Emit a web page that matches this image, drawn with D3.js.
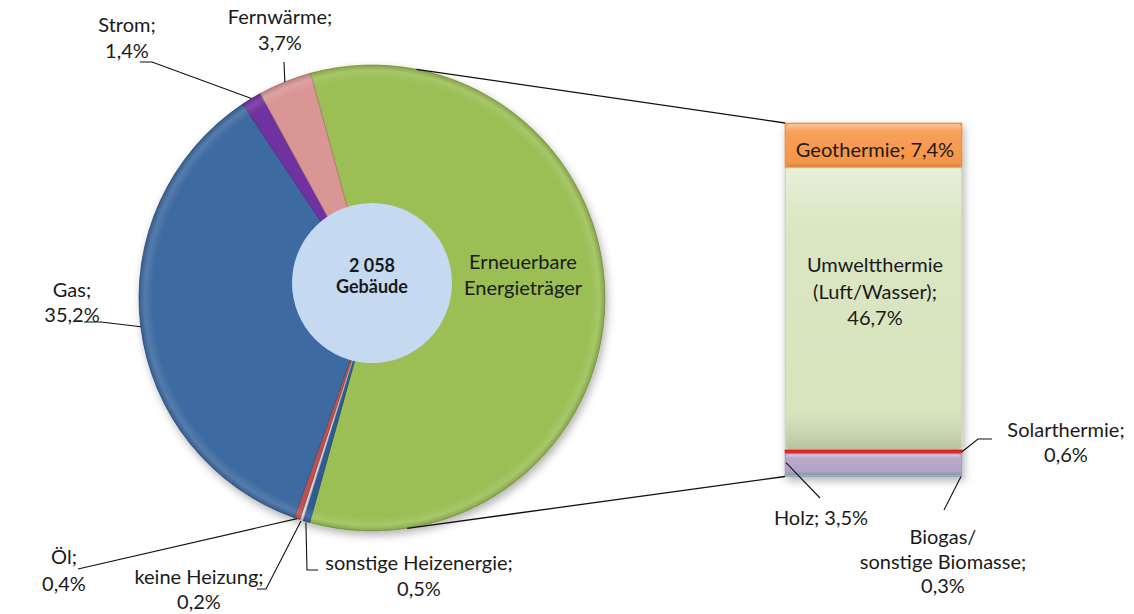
<!DOCTYPE html>
<html>
<head>
<meta charset="utf-8">
<script src="https://cdn.jsdelivr.net/npm/d3@7"></script>
<style>
  body { margin: 0; background: #fff; }
  svg text { font-family: Lato, "Noto Sans", sans-serif; fill: #1a1a1a; }
</style>
</head>
<body>
<script>
// pie slices, clockwise from the top of the green slice
const pieCats = ["Erneuerbare Energieträger", "sonstige Heizenergie", "keine Heizung", "Öl", "Gas", "Strom", "Fernwärme"];
const pieVals = [58.5, 0.5, 0.2, 0.4, 35.2, 1.4, 3.7];
const pieColors = ["#9bbf55", "#2f5d95", "#d9d9d9", "#c0504d", "#3e6aa0", "#7030a0", "#d99694"];

// breakdown of the renewable slice, top to bottom
const barCats = ["Geothermie", "Umweltthermie (Luft/Wasser)", "Solarthermie", "Holz", "Biogas/ sonstige Biomasse"];
const barVals = [7.4, 46.7, 0.6, 3.5, 0.3];
const barColors = ["#f79646", "#d7e4bd", "#e5262b", "#b3a2c7", "#8fb3bf"];

const centerLines = ["2 058", "Gebäude"];

const W = 1134, H = 614;
const de = d3.formatLocale({ decimal: ",", thousands: " ", grouping: [3], currency: ["", " €"] });
const pct = v => de.format(".1f")(v) + "%";

const svg = d3.select("body").append("svg")
  .attr("width", W)
  .attr("height", H);

const defs = svg.append("defs");
const shadow = defs.append("filter").attr("id", "shadow")
  .attr("x", "-20%").attr("y", "-20%").attr("width", "140%").attr("height", "140%");
shadow.append("feDropShadow")
  .attr("dx", 2).attr("dy", 4).attr("stdDeviation", 4)
  .attr("flood-color", "#000").attr("flood-opacity", 0.3);

// soft rim shading on the pie (centred on the pie group origin)
const rim = defs.append("radialGradient").attr("id", "rim")
  .attr("gradientUnits", "userSpaceOnUse");
rim.append("stop").attr("offset", "0%").attr("stop-color", "#fff").attr("stop-opacity", 0);
rim.append("stop").attr("offset", "94%").attr("stop-color", "#fff").attr("stop-opacity", 0);
rim.append("stop").attr("offset", "97.5%").attr("stop-color", "#fff").attr("stop-opacity", 0.12);
rim.append("stop").attr("offset", "100%").attr("stop-color", "#000").attr("stop-opacity", 0.15);

// bevel for bar pieces
const bev = defs.append("linearGradient").attr("id", "bevel")
  .attr("x1", 0).attr("y1", 0).attr("x2", 0).attr("y2", 1);
bev.append("stop").attr("offset", "0%").attr("stop-color", "#fff").attr("stop-opacity", 0.45);
bev.append("stop").attr("offset", "18%").attr("stop-color", "#fff").attr("stop-opacity", 0.1);
bev.append("stop").attr("offset", "82%").attr("stop-color", "#fff").attr("stop-opacity", 0);
bev.append("stop").attr("offset", "100%").attr("stop-color", "#000").attr("stop-opacity", 0.15);

/* pie */
const cx = 372, cy = 298, R = 233;
const startDeg = -15.3;
const rad = d => d * Math.PI / 180;

const pie = d3.pie().sort(null)
  .startAngle(rad(startDeg))
  .endAngle(rad(startDeg + 360));
const arcs = pie(pieVals);
arcs.forEach((a, i) => { a.cat = pieCats[i]; a.color = pieColors[i]; });

const arc = d3.arc().innerRadius(0).outerRadius(R);
const edge = (ang, r) => [cx + r * Math.sin(ang), cy - r * Math.cos(ang)];

rim.attr("cx", 0).attr("cy", 0).attr("r", R);

const gPie = svg.append("g").attr("transform", `translate(${cx},${cy})`);
gPie.append("g").attr("filter", "url(#shadow)")
  .selectAll("path")
  .data(arcs)
  .enter()
  .append("path")
  .attr("d", arc)
  .attr("fill", d => d.color)
  .attr("stroke", d => d3.color(d.color).darker(0.6))
  .attr("stroke-width", 0.8);

gPie.selectAll(".rim")
  .data(arcs)
  .enter()
  .append("path")
  .attr("class", "rim")
  .attr("d", arc)
  .attr("fill", "url(#rim)");

// centre disc
svg.append("circle")
  .attr("cx", cx).attr("cy", 283).attr("r", 80)
  .attr("fill", "#c5d9f1");

svg.selectAll(".ctr")
  .data(centerLines)
  .enter()
  .append("text")
  .attr("class", "ctr")
  .attr("x", cx)
  .attr("y", (d, i) => 272 + i * 21)
  .attr("text-anchor", "middle")
  .attr("font-size", 18)
  .attr("font-weight", "bold")
  .text(d => d);

svg.append("g").selectAll("text")
  .data(["Erneuerbare", "Energieträger"])
  .enter()
  .append("text")
  .attr("x", 523)
  .attr("y", (d, i) => 269 + i * 26)
  .attr("text-anchor", "middle")
  .attr("font-size", 20)
  .text(d => d);

/* bar of pie */
const barX = 785, barW = 177;
const y = d3.scaleLinear()
  .domain([0, d3.sum(barVals)])
  .range([123, 476.5]);

let acc = 0;
const barData = barVals.map((v, i) => {
  const d = { cat: barCats[i], v: v, color: barColors[i], y0: acc, y1: acc + v };
  acc += v;
  return d;
});

const gBar = svg.append("g").attr("filter", "url(#shadow)");
gBar.selectAll("rect.seg")
  .data(barData)
  .enter()
  .append("rect")
  .attr("class", "seg")
  .attr("x", barX)
  .attr("y", d => y(d.y0))
  .attr("width", barW)
  .attr("height", d => y(d.y1) - y(d.y0))
  .attr("fill", d => d.color)
  .attr("stroke", d => d3.color(d.color).darker(0.4))
  .attr("stroke-width", 0.6);

svg.selectAll("rect.bev")
  .data(barData.filter(d => d.v > 1))
  .enter()
  .append("rect")
  .attr("class", "bev")
  .attr("x", barX + 1)
  .attr("y", d => y(d.y0) + 1)
  .attr("width", barW - 2)
  .attr("height", d => y(d.y1) - y(d.y0) - 2)
  .attr("rx", 3)
  .attr("fill", "url(#bevel)");

// connector lines pie -> bar
const pTop = edge(rad(11), R), pBot = edge(rad(171.3), R);
svg.append("path")
  .attr("d", d3.line()([pTop, [barX, y(0)]]))
  .attr("stroke", "#111").attr("stroke-width", 1.3).attr("fill", "none");
svg.append("path")
  .attr("d", d3.line()([pBot, [barX, y(d3.sum(barVals))]]))
  .attr("stroke", "#111").attr("stroke-width", 1.3).attr("fill", "none");

/* labels */
const fs = 20;
function label(lines, x, y0, lh, anchor) {
  svg.append("g").selectAll("text")
    .data(lines)
    .enter()
    .append("text")
    .attr("x", x)
    .attr("y", (d, i) => y0 + i * lh)
    .attr("text-anchor", anchor || "middle")
    .attr("font-size", fs)
    .text(d => d);
}
function leader(pts) {
  svg.append("path")
    .attr("d", d3.line()(pts))
    .attr("fill", "none")
    .attr("stroke", "#111")
    .attr("stroke-width", 1.1);
}
const mid = i => (arcs[i].startAngle + arcs[i].endAngle) / 2;

// pie labels
label(["Strom;", pct(pieVals[5])], 127, 32, 26);
leader([[140, 62], [152, 62], edge(mid(5), R)]);

label(["Fernwärme;", pct(pieVals[6])], 280, 24, 26);
leader([[284, 62], edge(mid(6), R)]);

label(["Gas;", pct(pieVals[4])], 72, 297, 25);
leader([[84, 322], [101, 322], edge(mid(4), R)]);

label(["Öl;", pct(pieVals[3])], 64, 564, 27);
leader([[78, 569], edge(mid(3), R)]);

label(["keine Heizung;", pct(pieVals[2])], 199, 584, 25);
leader([[257, 589], [266, 589], edge(mid(2), R + 1)]);

label(["sonstige Heizenergie;", pct(pieVals[1])], 419, 570, 26);
leader([edge(mid(1), R + 1), [307, 570], [318, 570]]);

// bar labels
label([barCats[0] + "; " + pct(barVals[0])], 875, 157, 26);
label(["Umweltthermie", "(Luft/Wasser);", pct(barVals[1])], 875, 272, 26.5);

label(["Solarthermie;", pct(barVals[2])], 1066, 437, 25);
leader([[barX + barW, y(barData[2].y0 + 0.3)], [978, 439], [992, 439]]);

label(["Holz; " + pct(barVals[3])], 821, 525, 26);
leader([[barX + 1, y(barData[3].y0 + 1.5)], [820, 498]]);

label(["Biogas/", "sonstige Biomasse;", pct(barVals[4])], 943, 544, 24.5);
leader([[barX + barW - 1, y(barData[4].y1)], [944, 510]]);
</script>
</body>
</html>
